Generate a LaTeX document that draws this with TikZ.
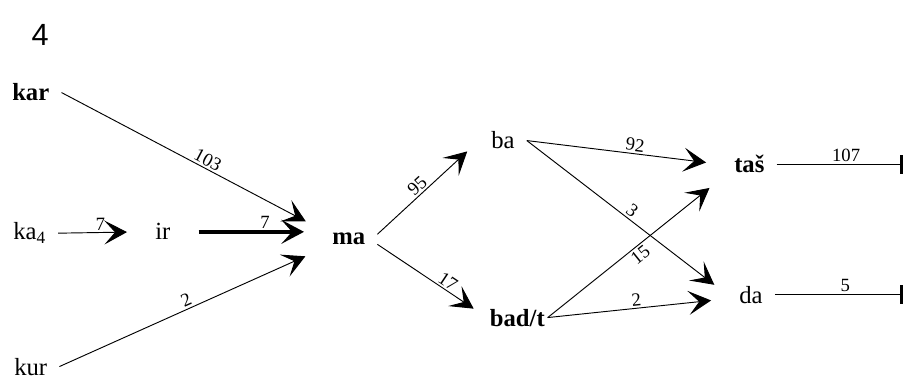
\documentclass[tikz,border=0pt]{standalone}
\usepackage{fontspec}
\setmainfont{Liberation Serif}
\newfontfamily\figfont{Liberation Sans}
\usetikzlibrary{arrows.meta}

\begin{document}
\begin{tikzpicture}[x=0.75pt,y=-0.75pt,word/.style={anchor=base west,font=\fontsize{18.5}{22}\selectfont,inner xsep=9pt},key/.style={word,font=\fontsize{18.5}{22}\selectfont\bfseries},link/.style={line width=0.7pt,-{Stealth[length=17pt,width=18pt,inset=8pt]},shorten >=12pt},heavy/.style={link,line width=2.6pt},halt/.style={line width=0.7pt,-{Bar[width=14pt,line width=2.6pt]}},count/.style={font=\fontsize{14}{16}\selectfont,sloped,inner sep=1.5pt}]
\useasboundingbox (0,0) rectangle (911,381);
\coordinate (stop) at (903,0);
\node[anchor=base west,font=\figfont\fontsize{23}{26}\selectfont] (num) at (27,46) {4};
\node[key] (kar) at (0,101) {kar};
\node[word] (ka) at (1,240) {ka\textsubscript{4}};
\node[word] (ir) at (143,240) {ir};
\node[word] (kur) at (2,375) {kur};
\node[key] (ma) at (320,245) {ma};
\node[word] (ba) at (479,149) {ba};
\node[key,inner xsep=2pt] (badt) at (487,326) {bad/t};
\node[key] (tas) at (722,173) {taš};
\node[word] (da) at (727,303) {da};
\draw[link] (kar.east) -- (ma.160) node[count,pos=0.55,above] {103};
\draw[link] (ka.east) -- (ir.west) node[count,pos=0.5,above] {7};
\draw[heavy,shorten <=12pt] (ir.east) -- (ir.east -| ma.west) node[count,pos=0.6,above] {7};
\draw[link] (kur.east) -- (ma.200) node[count,pos=0.5,above] {2};
\draw[link] (ma.10) -- (ba.west) node[count,pos=0.45,above] {95};
\draw[link] (ma.-10) -- (badt.west) node[count,pos=0.6,above] {17};
\draw[link] (ba.east) -- (tas.west) node[count,pos=0.55,above] {92};
\draw[link] (ba.east) -- (da.west) node[count,pos=0.5,above] {3};
\draw[link] (badt.east) -- (tas.south west) node[count,pos=0.5,below] {15};
\draw[link] (badt.east) -- (da.190) node[count,pos=0.5,above] {2};
\draw[halt] (tas.east) -- (tas.east -| stop) node[count,pos=0.55,above] {107};
\draw[halt] (da.east) -- (da.east -| stop) node[count,pos=0.55,above] {5};
\end{tikzpicture}
\end{document}
